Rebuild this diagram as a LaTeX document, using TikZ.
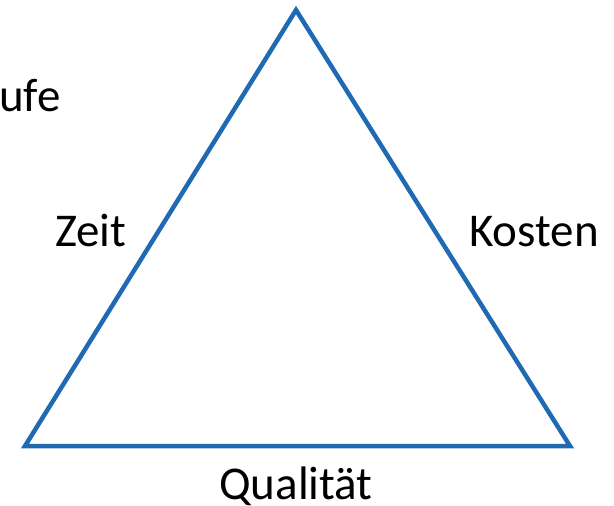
\documentclass[tikz,border=0pt]{standalone}
\usepackage{fontspec}
\setmainfont{Carlito}
\definecolor{triblue}{HTML}{1F6AB3}
\begin{document}
\begin{tikzpicture}[x=1pt,y=-1pt,
  lbl/.style={inner sep=0pt,font=\fontsize{47}{52}\selectfont,text=black},
  edge/.style={draw=triblue,line width=4.5pt,line join=miter}]
\useasboundingbox (0,0) rectangle (614,506);
\coordinate (top) at (296,10);
\coordinate (bl) at (25,446);
\coordinate (br) at (570,446);
\draw[edge] (top) -- (bl) -- (br) -- cycle;
\node[lbl,anchor=base west] (ufe) at (-1,111) {ufe};
\node[lbl,anchor=base west] (zeit) at (55,246) {Zeit};
\node[lbl,anchor=base west] (kosten) at (469,246) {Kosten};
\node[lbl,anchor=base west] (qual) at (219,499) {Qualität};
\end{tikzpicture}
\end{document}
